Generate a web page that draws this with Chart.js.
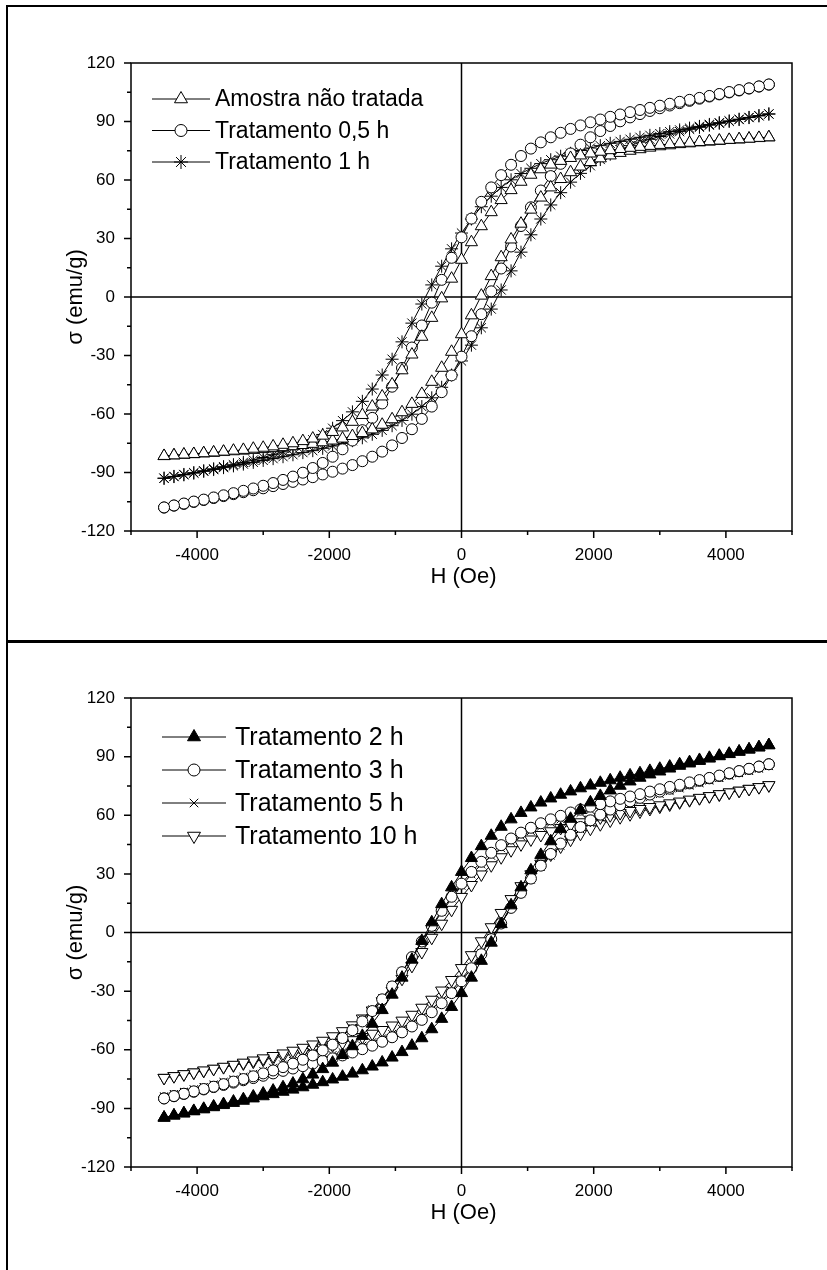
<!DOCTYPE html>
<html>
<head>
<meta charset="utf-8">
<script src="https://cdn.jsdelivr.net/npm/chart.js@4.4.0/dist/chart.umd.min.js"></script>
<style>
  html, body { margin: 0; padding: 0; background: #fff; }
  #page { position: relative; width: 827px; height: 1270px; overflow: hidden; }
  .rule { position: absolute; background: #000; }
  canvas { position: absolute; left: 0; }
</style>
</head>
<body>
<div id="page">
  <div class="rule" style="left:6px;top:5px;width:821px;height:2px"></div>
  <div class="rule" style="left:6px;top:5px;width:2px;height:1265px"></div>
  <div class="rule" style="left:6px;top:640px;width:821px;height:3px"></div>
  <canvas id="chartTop" width="827" height="640" style="top:0"></canvas>
  <canvas id="chartBottom" width="827" height="627" style="top:643px"></canvas>
</div>
<script>
// field steps (Oe), shared by every loop
const fieldOe = [-4500,-4350,-4200,-4050,-3900,-3750,-3600,-3450,-3300,-3150,
  -3000,-2850,-2700,-2550,-2400,-2250,-2100,-1950,-1800,-1650,
  -1500,-1350,-1200,-1050,-900,-750,-600,-450,-300,-150,
  0,150,300,450,600,750,900,1050,1200,1350,
  1500,1650,1800,1950,2100,2250,2400,2550,2700,2850,
  3000,3150,3300,3450,3600,3750,3900,4050,4200,4350,
  4500,4650];

// sigma (emu/g); "Asc" = branch with field going up, "Desc" = coming back down
const amostraAsc = [-81.6,-81.2,-80.9,-80.6,-80.2,-79.9,-79.5,-79.1,-78.8,-78.4,
  -78.0,-77.5,-77.0,-76.5,-75.9,-75.3,-74.5,-73.6,-72.6,-71.3,
  -69.8,-67.9,-65.5,-62.7,-59.1,-54.8,-49.7,-43.5,-36.3,-28.1,
  -19.1,-9.4,0.7,10.7,20.4,29.5,37.6,44.8,51.0,56.2,
  60.5,64.0,66.9,69.2,71.1,72.6,73.9,75.0,75.8,76.6,
  77.3,77.8,78.4,78.8,79.3,79.7,80.1,80.5,80.8,81.2,
  81.5,81.9];
const amostraDesc = [-81.5,-81.2,-80.8,-80.5,-80.1,-79.7,-79.3,-78.8,-78.4,-77.8,
  -77.3,-76.6,-75.8,-75.0,-73.9,-72.6,-71.1,-69.2,-66.9,-64.0,
  -60.5,-56.2,-51.0,-44.8,-37.6,-29.5,-20.4,-10.7,-0.7,9.4,
  19.1,28.1,36.3,43.5,49.7,54.8,59.1,62.7,65.5,67.9,
  69.8,71.3,72.6,73.6,74.5,75.3,75.9,76.5,77.0,77.5,
  78.0,78.4,78.8,79.1,79.5,79.9,80.2,80.6,80.9,81.2,
  81.6,81.9];

const trat05Asc = [-108.0,-107.0,-106.1,-105.1,-104.1,-103.1,-102.1,-101.1,-100.1,-99.1,
  -98.1,-97.0,-95.9,-94.8,-93.6,-92.4,-91.0,-89.6,-88.0,-86.2,
  -84.2,-81.9,-79.3,-76.1,-72.3,-67.8,-62.5,-56.2,-48.8,-40.2,
  -30.6,-20.1,-8.8,2.9,14.6,25.9,36.4,46.0,54.6,62.0,
  68.3,73.6,78.1,81.9,85.1,87.7,90.1,92.1,93.8,95.4,
  96.8,98.2,99.4,100.6,101.7,102.8,103.9,104.9,105.9,106.9,
  107.9,108.9];
const trat05Desc = [-107.9,-106.9,-105.9,-104.9,-103.9,-102.8,-101.7,-100.6,-99.4,-98.2,
  -96.8,-95.4,-93.8,-92.1,-90.1,-87.7,-85.1,-81.9,-78.1,-73.6,
  -68.3,-62.0,-54.6,-46.0,-36.4,-25.9,-14.6,-2.9,8.8,20.1,
  30.6,40.2,48.8,56.2,62.5,67.8,72.3,76.1,79.3,81.9,
  84.2,86.2,88.0,89.6,91.0,92.4,93.6,94.8,95.9,97.0,
  98.1,99.1,100.1,101.1,102.1,103.1,104.1,105.1,106.1,107.0,
  108.0,109.0];

const trat1Asc = [-93.0,-92.1,-91.2,-90.3,-89.4,-88.5,-87.5,-86.6,-85.7,-84.8,
  -83.8,-82.9,-81.9,-80.9,-79.8,-78.8,-77.6,-76.4,-75.1,-73.7,
  -72.2,-70.4,-68.4,-66.0,-63.3,-60.1,-56.2,-51.7,-46.3,-40.0,
  -32.8,-24.7,-15.8,-6.2,3.6,13.4,23.0,31.9,40.0,47.2,
  53.5,58.9,63.4,67.3,70.5,73.2,75.6,77.6,79.4,80.9,
  82.3,83.6,84.8,86.0,87.0,88.1,89.1,90.1,91.0,92.0,
  92.9,93.8];
const trat1Desc = [-92.9,-92.0,-91.0,-90.1,-89.1,-88.1,-87.0,-86.0,-84.8,-83.6,
  -82.3,-80.9,-79.4,-77.6,-75.6,-73.2,-70.5,-67.3,-63.4,-58.9,
  -53.5,-47.2,-40.0,-31.9,-23.0,-13.4,-3.6,6.2,15.8,24.7,
  32.8,40.0,46.3,51.7,56.2,60.1,63.3,66.0,68.4,70.4,
  72.2,73.7,75.1,76.4,77.6,78.8,79.8,80.9,81.9,82.9,
  83.8,84.8,85.7,86.6,87.5,88.5,89.4,90.3,91.2,92.1,
  93.0,93.9];

const trat2Asc = [-94.8,-93.7,-92.6,-91.5,-90.5,-89.4,-88.3,-87.2,-86.1,-84.9,
  -83.8,-82.7,-81.5,-80.4,-79.2,-77.9,-76.6,-75.2,-73.8,-72.2,
  -70.5,-68.6,-66.5,-64.0,-61.2,-57.9,-54.1,-49.5,-44.2,-38.1,
  -31.0,-23.1,-14.5,-5.2,4.3,13.9,23.1,31.8,39.7,46.7,
  52.9,58.2,62.7,66.6,69.9,72.7,75.1,77.3,79.2,80.9,
  82.4,83.9,85.3,86.5,87.8,89.0,90.2,91.3,92.5,93.6,
  94.7,95.8];
const trat2Desc = [-94.7,-93.6,-92.5,-91.3,-90.2,-89.0,-87.8,-86.5,-85.3,-83.9,
  -82.4,-80.9,-79.2,-77.3,-75.1,-72.7,-69.9,-66.6,-62.7,-58.2,
  -52.9,-46.7,-39.7,-31.8,-23.1,-13.9,-4.3,5.2,14.5,23.1,
  31.0,38.1,44.2,49.5,54.1,57.9,61.2,64.0,66.5,68.6,
  70.5,72.2,73.8,75.2,76.6,77.9,79.2,80.4,81.5,82.7,
  83.8,84.9,86.1,87.2,88.3,89.4,90.5,91.5,92.6,93.7,
  94.8,95.9];

const trat3Asc = [-84.9,-83.8,-82.6,-81.5,-80.3,-79.1,-78.0,-76.8,-75.6,-74.5,
  -73.3,-72.1,-70.8,-69.6,-68.4,-67.1,-65.7,-64.4,-62.9,-61.4,
  -59.7,-57.9,-55.9,-53.6,-51.1,-48.1,-44.7,-40.8,-36.2,-31.0,
  -25.0,-18.3,-11.1,-3.4,4.6,12.6,20.3,27.6,34.2,40.2,
  45.5,50.0,54.0,57.4,60.3,62.9,65.1,67.1,68.9,70.6,
  72.1,73.6,75.0,76.3,77.6,78.9,80.1,81.3,82.5,83.7,
  84.9,86.1];
const trat3Desc = [-84.9,-83.7,-82.5,-81.3,-80.1,-78.9,-77.6,-76.3,-75.0,-73.6,
  -72.1,-70.6,-68.9,-67.1,-65.1,-62.9,-60.3,-57.4,-54.0,-50.0,
  -45.5,-40.2,-34.2,-27.6,-20.3,-12.6,-4.6,3.4,11.1,18.3,
  25.0,31.0,36.2,40.8,44.7,48.1,51.1,53.6,55.9,57.9,
  59.7,61.4,62.9,64.4,65.7,67.1,68.4,69.6,70.8,72.1,
  73.3,74.5,75.6,76.8,78.0,79.1,80.3,81.5,82.6,83.8,
  84.9,86.1];

const trat5Asc = [-84.0,-82.8,-81.6,-80.4,-79.2,-78.0,-76.8,-75.5,-74.3,-73.1,
  -71.9,-70.6,-69.4,-68.1,-66.8,-65.5,-64.1,-62.7,-61.2,-59.6,
  -57.9,-56.1,-54.1,-51.9,-49.3,-46.4,-43.1,-39.2,-34.8,-29.7,
  -23.9,-17.4,-10.4,-2.9,4.8,12.5,20.0,27.0,33.5,39.3,
  44.4,48.8,52.7,56.0,58.9,61.5,63.7,65.7,67.5,69.2,
  70.8,72.3,73.7,75.1,76.4,77.7,79.0,80.2,81.5,82.7,
  83.9,85.1];
const trat5Desc = [-83.9,-82.7,-81.5,-80.2,-79.0,-77.7,-76.4,-75.1,-73.7,-72.3,
  -70.8,-69.2,-67.5,-65.7,-63.7,-61.5,-58.9,-56.0,-52.7,-48.8,
  -44.4,-39.3,-33.5,-27.0,-20.0,-12.5,-4.8,2.9,10.4,17.4,
  23.9,29.7,34.8,39.2,43.1,46.4,49.3,51.9,54.1,56.1,
  57.9,59.6,61.2,62.7,64.1,65.5,66.8,68.1,69.4,70.6,
  71.9,73.1,74.3,75.5,76.8,78.0,79.2,80.4,81.6,82.8,
  84.0,85.2];

const trat10Asc = [-74.4,-73.5,-72.6,-71.7,-70.8,-69.8,-68.9,-68.0,-67.0,-66.1,
  -65.1,-64.2,-63.2,-62.2,-61.1,-60.0,-58.9,-57.7,-56.4,-55.1,
  -53.5,-51.8,-49.9,-47.6,-45.1,-42.1,-38.5,-34.4,-29.7,-24.3,
  -18.2,-11.6,-4.5,2.7,10.0,17.1,23.7,29.8,35.2,39.9,
  44.0,47.5,50.5,53.1,55.4,57.3,59.0,60.5,61.9,63.2,
  64.4,65.5,66.6,67.7,68.7,69.7,70.6,71.6,72.5,73.5,
  74.4,75.3];
const trat10Desc = [-74.4,-73.5,-72.5,-71.6,-70.6,-69.7,-68.7,-67.7,-66.6,-65.5,
  -64.4,-63.2,-61.9,-60.5,-59.0,-57.3,-55.4,-53.1,-50.5,-47.5,
  -44.0,-39.9,-35.2,-29.8,-23.7,-17.1,-10.0,-2.7,4.5,11.6,
  18.2,24.3,29.7,34.4,38.5,42.1,45.1,47.6,49.9,51.8,
  53.5,55.1,56.4,57.7,58.9,60.0,61.1,62.2,63.2,64.2,
  65.1,66.1,67.0,68.0,68.9,69.8,70.8,71.7,72.6,73.5,
  74.4,75.4];

const xTicks = [-4000, -2000, 0, 2000, 4000];
const xMinorTicks = [-5000, -3000, -1000, 1000, 3000, 5000];
const yTicks = [-120, -90, -60, -30, 0, 30, 60, 90, 120];
const yMinorTicks = [-105, -75, -45, -15, 15, 45, 75, 105];

const FONT = '"Liberation Sans", Arial, Helvetica, sans-serif';
Chart.defaults.font.family = FONT;
Chart.defaults.color = '#000';

// one closed loop: field up, then back down
function loop(asc, desc) {
  const pts = fieldOe.map((h, i) => ({ x: h, y: asc[i] }));
  for (let i = fieldOe.length - 1; i >= 0; i--) pts.push({ x: fieldOe[i], y: desc[i] });
  return pts;
}

function series(label, asc, desc, style, fill, radius, rotation) {
  return {
    label: label,
    data: loop(asc, desc),
    showLine: true,
    borderColor: '#000',
    borderWidth: 1,
    pointStyle: style,
    pointRadius: radius,
    pointRotation: rotation || 0,
    pointBackgroundColor: fill,
    pointBorderColor: '#000',
    pointBorderWidth: 1
  };
}

const framePlugin = {
  id: 'frame',
  beforeDatasetsDraw(chart) {
    const { ctx, chartArea: a, scales: { x, y } } = chart;
    const x0 = x.getPixelForValue(0), y0 = y.getPixelForValue(0);
    ctx.save();
    ctx.strokeStyle = '#000';
    ctx.lineWidth = 1.5;
    ctx.beginPath();
    ctx.moveTo(x0, a.top); ctx.lineTo(x0, a.bottom);
    ctx.moveTo(a.left, y0); ctx.lineTo(a.right, y0);
    ctx.stroke();
    ctx.restore();
  },
  afterDraw(chart, args, opts) {
    const { ctx, chartArea: a, scales: { x, y } } = chart;
    ctx.save();
    ctx.strokeStyle = '#000';
    ctx.fillStyle = '#000';
    ctx.lineWidth = 1.5;
    ctx.strokeRect(a.left, a.top, a.right - a.left, a.bottom - a.top);

    // outward ticks
    ctx.beginPath();
    xTicks.forEach(v => { const p = x.getPixelForValue(v); ctx.moveTo(p, a.bottom); ctx.lineTo(p, a.bottom + 7); });
    xMinorTicks.forEach(v => { const p = x.getPixelForValue(v); ctx.moveTo(p, a.bottom); ctx.lineTo(p, a.bottom + 4); });
    yTicks.forEach(v => { const p = y.getPixelForValue(v); ctx.moveTo(a.left, p); ctx.lineTo(a.left - 7, p); });
    yMinorTicks.forEach(v => { const p = y.getPixelForValue(v); ctx.moveTo(a.left, p); ctx.lineTo(a.left - 4, p); });
    ctx.stroke();

    // axis titles
    ctx.font = '22px ' + FONT;
    ctx.textAlign = 'center';
    ctx.textBaseline = 'middle';
    ctx.fillText('H (Oe)', (a.left + a.right) / 2 + 2, a.bottom + opts.xTitleGap);
    ctx.save();
    ctx.translate(opts.yTitleX, (a.top + a.bottom) / 2);
    ctx.rotate(-Math.PI / 2);
    ctx.fillText('\u03c3 (emu/g)', 0, 0);
    ctx.restore();

    // legend: line, marker, label
    const lg = opts.legend;
    ctx.font = lg.size + 'px ' + FONT;
    ctx.textAlign = 'left';
    chart.data.datasets.forEach((ds, i) => {
      const yy = lg.y0 + i * lg.dy;
      ctx.lineWidth = 1;
      ctx.beginPath();
      ctx.moveTo(lg.x1, yy); ctx.lineTo(lg.x2, yy);
      ctx.stroke();
      ctx.fillStyle = ds.pointBackgroundColor;
      Chart.helpers.drawPoint(ctx, {
        pointStyle: ds.pointStyle, rotation: ds.pointRotation,
        radius: ds.pointRadius + 0.5, borderWidth: 1
      }, lg.xm, yy);
      ctx.fillStyle = '#000';
      ctx.fillText(ds.label, lg.xt, yy + 1);
    });
    ctx.restore();
  }
};

function makeChart(id, datasets, box, opts) {
  return new Chart(document.getElementById(id), {
    type: 'scatter',
    data: { datasets: datasets },
    options: {
      responsive: false,
      animation: false,
      events: [],
      layout: { padding: { left: 0, right: 827 - box.right, top: box.top, bottom: 0 } },
      scales: {
        x: {
          min: -5000, max: 5000,
          grid: { display: false }, border: { display: false },
          afterBuildTicks: s => { s.ticks = xTicks.map(v => ({ value: v })); },
          afterFit: s => { s.height = box.height - box.bottom; },
          ticks: { font: { size: 17 }, padding: 6, maxRotation: 0, autoSkip: false,
                   callback: v => String(v) }
        },
        y: {
          min: -120, max: 120,
          grid: { display: false }, border: { display: false },
          afterBuildTicks: s => { s.ticks = yTicks.map(v => ({ value: v })); },
          afterFit: s => { s.width = box.left; },
          ticks: { font: { size: 17 }, padding: 8, autoSkip: false,
                   callback: v => String(v) }
        }
      },
      plugins: { legend: { display: false }, tooltip: { enabled: false }, frame: opts }
    },
    plugins: [framePlugin]
  });
}

makeChart('chartTop', [
  series('Amostra n\u00e3o tratada', amostraAsc, amostraDesc, 'triangle', '#fff', 7),
  series('Tratamento 0,5 h', trat05Asc, trat05Desc, 'circle', '#fff', 5.5),
  series('Tratamento 1 h', trat1Asc, trat1Desc, 'star', '#fff', 6.5)
], { left: 131, right: 792, top: 63, bottom: 531, height: 640 }, {
  xTitleGap: 46, yTitleX: 76,
  legend: { x1: 152, x2: 210, xm: 181, xt: 215, y0: 99, dy: 31.5, size: 23 }
});

makeChart('chartBottom', [
  series('Tratamento 2 h', trat2Asc, trat2Desc, 'triangle', '#000', 7),
  series('Tratamento 3 h', trat3Asc, trat3Desc, 'circle', '#fff', 5.5),
  series('Tratamento 5 h', trat5Asc, trat5Desc, 'crossRot', '#fff', 5.5),
  series('Tratamento 10 h', trat10Asc, trat10Desc, 'triangle', '#fff', 7, 180)
], { left: 131, right: 792, top: 55, bottom: 524, height: 627 }, {
  xTitleGap: 46, yTitleX: 76,
  legend: { x1: 162, x2: 226, xm: 194, xt: 235, y0: 94, dy: 33, size: 25 }
});
</script>
</body>
</html>
